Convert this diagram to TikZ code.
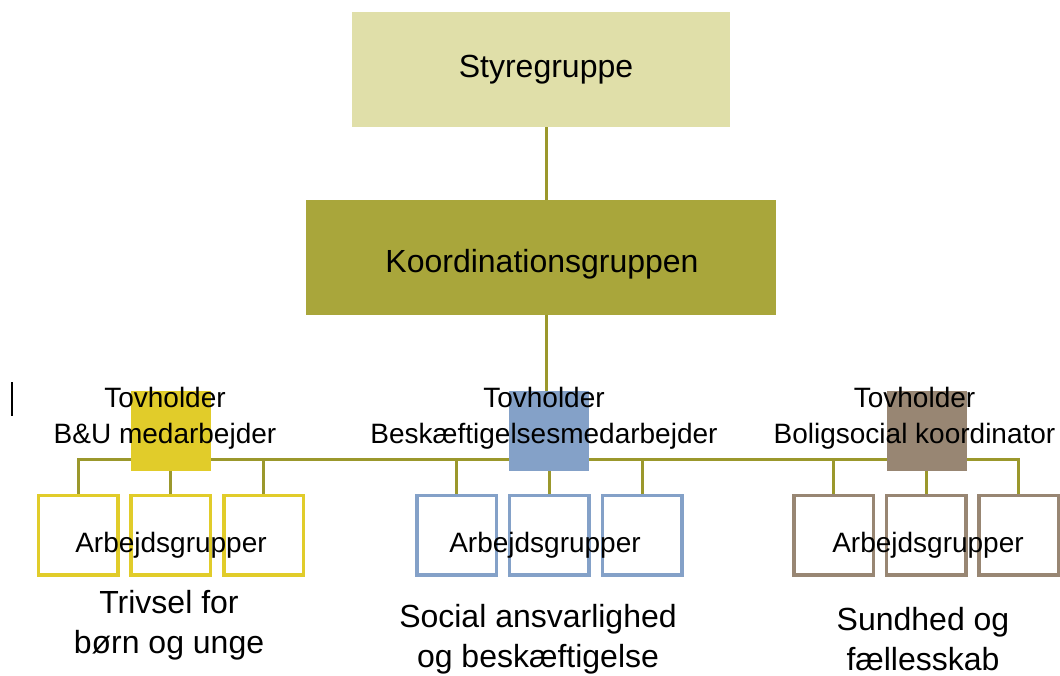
\documentclass[tikz,border=0pt]{standalone}
\usepackage{fontspec}
\setmainfont{Liberation Sans}
\usepackage{tikz}
\usetikzlibrary{positioning,calc,backgrounds}

\definecolor{styrfill}{HTML}{E0DFA9}
\definecolor{koordfill}{HTML}{A9A63B}
\definecolor{linkcol}{HTML}{9B982C}
\definecolor{bugul}{HTML}{E1CC2A}
\definecolor{besblaa}{HTML}{84A1C8}
\definecolor{boligbrun}{HTML}{988673}

\newcommand{\stortxt}{\fontsize{32}{40}\selectfont}
\newcommand{\smaatxt}{\fontsize{28}{36}\selectfont}

\tikzset{
	topbox/.style={rectangle, draw=none, inner sep=0pt, minimum height=115pt},
	tovbox/.style={rectangle, draw=none, inner sep=0pt, minimum size=80pt},
	wgbox/.style={rectangle, draw=#1, fill=white, line width=3.5pt, inner sep=0pt, minimum size=79.5pt},
	link/.style={linkcol, line width=3pt},
	tovtxt/.style={align=center, font=\smaatxt, inner sep=0pt},
	wgtxt/.style={anchor=base, font=\smaatxt, inner sep=0pt},
	omrtxt/.style={align=center, font=\stortxt, inner sep=0pt}
}

\begin{document}
\begin{tikzpicture}[x=1pt, y=-1pt]
			\useasboundingbox (0,0) rectangle (1060,675);

			\node[topbox, fill=styrfill, minimum width=378pt] (styr) at (541,69.5) {};
			\node[topbox, fill=koordfill, minimum width=470pt] (koord) at (541,257.5) {};
			\node[anchor=base, font=\stortxt, inner sep=0pt] (styrtxt) at (546,77) {Styregruppe};
			\node[anchor=base, font=\stortxt, inner sep=0pt] (koordtxt) at (542,272) {Koordinationsgruppen};

			\node[tovbox, fill=bugul] (tova) at (171,430.5) {};
			\node[tovbox, fill=besblaa] (tovb) at (549,430.5) {};
			\node[tovbox, fill=boligbrun] (tovc) at (926.5,430.5) {};

			\node[wgbox=bugul] (wa1) at (78,535) {};
			\node[wgbox=bugul] (wa2) at (170.5,535) {};
			\node[wgbox=bugul] (wa3) at (263.5,535) {};
			\node[wgbox=besblaa] (wb1) at (456.5,535) {};
			\node[wgbox=besblaa] (wb2) at (549,535) {};
			\node[wgbox=besblaa] (wb3) at (642,535) {};
			\node[wgbox=boligbrun] (wc1) at (833.5,535) {};
			\node[wgbox=boligbrun] (wc2) at (926,535) {};
			\node[wgbox=boligbrun] (wc3) at (1018.5,535) {};

			\coordinate (trunk) at (546,0);
			\coordinate (bus) at (0,459.5);
			\begin{pgfonlayer}{background}
				\draw[link] (styr.south -| trunk) -- (koord.north -| trunk);
				\draw[link] (koord.south -| trunk) -- (trunk |- bus);
				\draw[link] (wa1.north) |- (wc3.north |- bus) -- (wc3.north);
				\foreach \n in {wa2,wa3,wb1,wb2,wb3,wc1,wc2}
					\draw[link] (\n.north) -- (\n.north |- bus);
			\end{pgfonlayer}

			\node[tovtxt] (tovatxt) at (165,418) {Tovholder\\B\&U medarbejder};
			\node[tovtxt] (tovbtxt) at (544,418) {Tovholder\\Beskæftigelsesmedarbejder};
			\node[tovtxt] (tovctxt) at (914.5,418) {Tovholder\\Boligsocial koordinator};

			\node[wgtxt] (wgatxt) at (171,552) {Arbejdsgrupper};
			\node[wgtxt] (wgbtxt) at (545,552) {Arbejdsgrupper};
			\node[wgtxt] (wgctxt) at (928,552) {Arbejdsgrupper};

			\node[omrtxt] (omratxt) at (169,625) {Trivsel for\\børn og unge};
			\node[omrtxt] (omrbtxt) at (538,639) {Social ansvarlighed\\og beskæftigelse};
			\node[omrtxt] (omrctxt) at (923,639) {Sundhed og\\fællesskab};

			\draw[line width=2pt] (12,382) -- (12,416);
\end{tikzpicture}
\end{document}
